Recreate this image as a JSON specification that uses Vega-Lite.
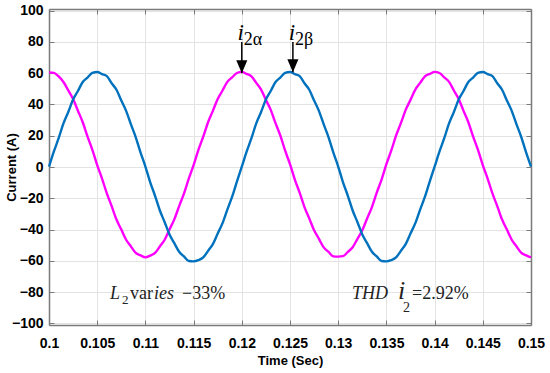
{
  "$schema": "https://vega.github.io/schema/vega-lite/v6.json",
  "width": 482,
  "height": 316,
  "autosize": "none",
  "padding": {"left": 49, "top": 9, "right": 19, "bottom": 48},
  "background": "white",
  "config": {
    "view": {"stroke": null},
    "axis": {
      "domainColor": "#7a7a7a", "domainWidth": 1.5,
      "tickColor": "#7a7a7a", "tickWidth": 1,
      "gridColor": "#e3e3e3", "gridWidth": 1,
      "labelFont": "Liberation Sans", "labelFontWeight": "bold", "labelFontSize": 14, "labelColor": "black",
      "titleFont": "Liberation Sans", "titleFontWeight": "bold", "titleFontSize": 13, "titleColor": "black"
    }
  },
  "resolve": {"axis": {"x": "independent", "y": "independent"}},
  "layer": [
    {
      "data": {"values": [
        {"t":0.1,"a":60.5,"b":0.2},{"t":0.1005,"a":60.2,"b":9.8},{"t":0.101,"a":57.9,"b":18.4},{"t":0.1015,"a":54.3,"b":27.9},{"t":0.102,"a":49.0,"b":35.2},
        {"t":0.1025,"a":43.5,"b":43.1},{"t":0.103,"a":36.0,"b":48.6},{"t":0.1035,"a":28.6,"b":54.3},{"t":0.104,"a":19.4,"b":57.2},{"t":0.1045,"a":11.0,"b":60.1},
        {"t":0.105,"a":1.2,"b":60.7},{"t":0.1055,"a":-7.4,"b":59.4},{"t":0.106,"a":-16.9,"b":58.1},{"t":0.1065,"a":-25.0,"b":53.5},{"t":0.107,"a":-33.6,"b":49.4},
        {"t":0.1075,"a":-40.0,"b":42.5},{"t":0.108,"a":-46.5,"b":35.9},{"t":0.1085,"a":-50.8,"b":27.2},{"t":0.109,"a":-54.9,"b":19.0},{"t":0.1095,"a":-56.5,"b":9.2},
        {"t":0.11,"a":-57.8,"b":0.3},{"t":0.1105,"a":-56.6,"b":-9.8},{"t":0.111,"a":-54.9,"b":-18.4},{"t":0.1115,"a":-50.8,"b":-27.8},{"t":0.112,"a":-46.5,"b":-35.3},
        {"t":0.1125,"a":-39.9,"b":-43.1},{"t":0.113,"a":-33.5,"b":-48.7},{"t":0.1135,"a":-25.0,"b":-54.2},{"t":0.114,"a":-17.0,"b":-57.2},{"t":0.1145,"a":-7.4,"b":-60.1},
        {"t":0.115,"a":1.2,"b":-60.3},{"t":0.1155,"a":11.0,"b":-59.5},{"t":0.116,"a":19.4,"b":-57.8},{"t":0.1165,"a":28.6,"b":-53.6},{"t":0.117,"a":35.9,"b":-49.3},
        {"t":0.1175,"a":43.5,"b":-42.5},{"t":0.118,"a":48.9,"b":-35.9},{"t":0.1185,"a":54.4,"b":-27.2},{"t":0.119,"a":57.3,"b":-19.0},{"t":0.1195,"a":60.1,"b":-9.2},
        {"t":0.12,"a":60.8,"b":0.2},{"t":0.1205,"a":59.5,"b":9.8},{"t":0.121,"a":57.9,"b":18.4},{"t":0.1215,"a":53.8,"b":27.9},{"t":0.122,"a":49.5,"b":35.2},
        {"t":0.1225,"a":42.9,"b":43.1},{"t":0.123,"a":36.5,"b":48.6},{"t":0.1235,"a":28.0,"b":54.3},{"t":0.124,"a":20.0,"b":57.2},{"t":0.1245,"a":10.4,"b":60.1},
        {"t":0.125,"a":1.8,"b":60.7},{"t":0.1255,"a":-8.0,"b":59.4},{"t":0.126,"a":-16.4,"b":58.1},{"t":0.1265,"a":-25.6,"b":53.5},{"t":0.127,"a":-32.9,"b":49.4},
        {"t":0.1275,"a":-40.5,"b":42.5},{"t":0.128,"a":-45.9,"b":35.9},{"t":0.1285,"a":-51.4,"b":27.2},{"t":0.129,"a":-54.3,"b":19.0},{"t":0.1295,"a":-57.1,"b":9.2},
        {"t":0.13,"a":-57.3,"b":0.3},{"t":0.1305,"a":-57.0,"b":-9.8},{"t":0.131,"a":-54.3,"b":-18.4},{"t":0.1315,"a":-51.3,"b":-27.8},{"t":0.132,"a":-45.9,"b":-35.3},
        {"t":0.1325,"a":-40.5,"b":-43.1},{"t":0.133,"a":-32.9,"b":-48.7},{"t":0.1335,"a":-25.6,"b":-54.2},{"t":0.134,"a":-16.4,"b":-57.2},{"t":0.1345,"a":-8.0,"b":-60.1},
        {"t":0.135,"a":1.8,"b":-60.3},{"t":0.1355,"a":10.4,"b":-59.5},{"t":0.136,"a":20.0,"b":-57.8},{"t":0.1365,"a":28.0,"b":-53.6},{"t":0.137,"a":36.5,"b":-49.3},
        {"t":0.1375,"a":42.9,"b":-42.5},{"t":0.138,"a":49.5,"b":-35.9},{"t":0.1385,"a":53.8,"b":-27.2},{"t":0.139,"a":57.9,"b":-19.0},{"t":0.1395,"a":59.5,"b":-9.2},
        {"t":0.14,"a":60.8,"b":0.2},{"t":0.1405,"a":60.1,"b":9.8},{"t":0.141,"a":57.3,"b":18.4},{"t":0.1415,"a":54.4,"b":27.9},{"t":0.142,"a":48.9,"b":35.2},
        {"t":0.1425,"a":43.5,"b":43.1},{"t":0.143,"a":35.9,"b":48.6},{"t":0.1435,"a":28.6,"b":54.3},{"t":0.144,"a":19.4,"b":57.2},{"t":0.1445,"a":11.0,"b":60.1},
        {"t":0.145,"a":1.2,"b":60.7},{"t":0.1455,"a":-7.4,"b":59.4},{"t":0.146,"a":-16.9,"b":58.1},{"t":0.1465,"a":-25.0,"b":53.5},{"t":0.147,"a":-33.6,"b":49.4},
        {"t":0.1475,"a":-40.0,"b":42.5},{"t":0.148,"a":-46.5,"b":35.9},{"t":0.1485,"a":-50.8,"b":27.2},{"t":0.149,"a":-54.9,"b":19.0},{"t":0.1495,"a":-56.5,"b":9.2},
        {"t":0.15,"a":-57.8,"b":0.3}
      ]},
      "transform": [{"fold": ["a", "b"], "as": ["s", "v"]}],
      "mark": {"type": "line", "strokeWidth": 2.4, "interpolate": "monotone"},
      "encoding": {
        "x": {"field": "t", "type": "quantitative",
          "scale": {"domain": [0.1, 0.15], "nice": false, "zero": false},
          "axis": {"orient": "bottom", "values": [0.1,0.105,0.11,0.115,0.12,0.125,0.13,0.135,0.14,0.145,0.15], "format": "~g", "grid": true, "tickSize": -5, "labelPadding": 16, "labelFlush": false, "title": "Time (Sec)", "titlePadding": 4}},
        "y": {"field": "v", "type": "quantitative",
          "scale": {"domain": [-101, 101], "nice": false, "zero": false},
          "axis": {"orient": "left", "values": [-100,-80,-60,-40,-20,0,20,40,60,80,100], "grid": true, "tickSize": -5, "labelPadding": 11, "title": "Current (A)", "titleX": -31}},
        "color": {"field": "s", "type": "nominal", "scale": {"domain": ["a", "b"], "range": ["#FF00FF", "#0072BD"]}, "legend": null}
      }
    },
    {
      "data": {"values": [{"t": 0.1, "v": -101}, {"t": 0.15, "v": 101}]},
      "mark": {"type": "point", "opacity": 0},
      "encoding": {
        "x": {"field": "t", "type": "quantitative", "scale": {"domain": [0.1, 0.15], "nice": false, "zero": false},
          "axis": {"orient": "top", "values": [0.1,0.105,0.11,0.115,0.12,0.125,0.13,0.135,0.14,0.145,0.15], "labels": false, "grid": false, "tickSize": -5, "title": null}},
        "y": {"field": "v", "type": "quantitative", "scale": {"domain": [-101, 101], "nice": false, "zero": false},
          "axis": {"orient": "right", "values": [-100,-80,-60,-40,-20,0,20,40,60,80,100], "labels": false, "grid": false, "tickSize": -5, "title": null}}
      }
    },
    {
      "data": {"values": [
        {"t": 0.12, "top": 79.9, "tip": 60, "ty": 81.2, "sy": 78, "main": "i", "sub": "2α"},
        {"t": 0.1253, "top": 79.9, "tip": 60.5, "ty": 81.2, "sy": 78, "main": "i", "sub": "2β"}
      ]},
      "layer": [
        {"mark": {"type": "rule", "color": "black", "strokeWidth": 1.5},
         "encoding": {
           "x": {"field": "t", "type": "quantitative", "scale": {"domain": [0.1, 0.15], "nice": false, "zero": false}, "axis": null},
           "y": {"field": "top", "type": "quantitative", "scale": {"domain": [-101, 101], "nice": false, "zero": false}, "axis": null},
           "y2": {"field": "tip"}}},
        {"mark": {"type": "point", "shape": "M-0.85,-2L0.85,-2L0,0Z", "size": 169, "filled": true, "color": "black", "opacity": 1, "strokeWidth": 0},
         "encoding": {
           "x": {"field": "t", "type": "quantitative", "scale": {"domain": [0.1, 0.15], "nice": false, "zero": false}, "axis": null},
           "y": {"field": "tip", "type": "quantitative", "scale": {"domain": [-101, 101], "nice": false, "zero": false}, "axis": null}}},
        {"mark": {"type": "text", "font": "Liberation Serif", "fontStyle": "italic", "fontSize": 23, "align": "center", "baseline": "alphabetic", "dx": -1, "color": "black"},
         "encoding": {
           "x": {"field": "t", "type": "quantitative", "scale": {"domain": [0.1, 0.15], "nice": false, "zero": false}, "axis": null},
           "y": {"field": "ty", "type": "quantitative", "scale": {"domain": [-101, 101], "nice": false, "zero": false}, "axis": null},
           "text": {"field": "main"}}},
        {"mark": {"type": "text", "font": "Liberation Serif", "fontSize": 18, "align": "left", "baseline": "alphabetic", "dx": 2, "color": "black"},
         "encoding": {
           "x": {"field": "t", "type": "quantitative", "scale": {"domain": [0.1, 0.15], "nice": false, "zero": false}, "axis": null},
           "y": {"field": "sy", "type": "quantitative", "scale": {"domain": [-101, 101], "nice": false, "zero": false}, "axis": null},
           "text": {"field": "sub"}}}
      ]
    },
    {
      "data": {"values": [
        {"t": 0.10633, "y": -84.5, "p1": "L", "p2": "2", "p3": "var", "p4": "ies", "p5": "−33%"}
      ]},
      "encoding": {
        "x": {"field": "t", "type": "quantitative", "scale": {"domain": [0.1, 0.15], "nice": false, "zero": false}, "axis": null},
        "y": {"field": "y", "type": "quantitative", "scale": {"domain": [-101, 101], "nice": false, "zero": false}, "axis": null}
      },
      "layer": [
        {"mark": {"type": "text", "font": "Liberation Serif", "fontStyle": "italic", "fontSize": 18, "align": "left", "baseline": "alphabetic", "dx": 0, "color": "#222"}, "encoding": {"text": {"field": "p1"}}},
        {"mark": {"type": "text", "font": "Liberation Serif", "fontSize": 13, "align": "left", "baseline": "alphabetic", "dx": 12, "dy": 5, "color": "#222"}, "encoding": {"text": {"field": "p2"}}},
        {"mark": {"type": "text", "font": "Liberation Serif", "fontSize": 18, "align": "left", "baseline": "alphabetic", "dx": 20, "color": "#222"}, "encoding": {"text": {"field": "p3"}}},
        {"mark": {"type": "text", "font": "Liberation Serif", "fontStyle": "italic", "fontSize": 18, "align": "left", "baseline": "alphabetic", "dx": 44, "color": "#222"}, "encoding": {"text": {"field": "p4"}}},
        {"mark": {"type": "text", "font": "Liberation Serif", "fontSize": 18, "align": "left", "baseline": "alphabetic", "dx": 72, "color": "#222"}, "encoding": {"text": {"field": "p5"}}}
      ]
    },
    {
      "data": {"values": [
        {"t": 0.13143, "y": -84.3, "p1": "THD", "p2": "i", "p3": "2", "p4": "=2.92%"}
      ]},
      "encoding": {
        "x": {"field": "t", "type": "quantitative", "scale": {"domain": [0.1, 0.15], "nice": false, "zero": false}, "axis": null},
        "y": {"field": "y", "type": "quantitative", "scale": {"domain": [-101, 101], "nice": false, "zero": false}, "axis": null}
      },
      "layer": [
        {"mark": {"type": "text", "font": "Liberation Serif", "fontStyle": "italic", "fontSize": 18, "align": "left", "baseline": "alphabetic", "dx": 0, "color": "#222"}, "encoding": {"text": {"field": "p1"}}},
        {"mark": {"type": "text", "font": "Liberation Serif", "fontStyle": "italic", "fontSize": 26, "align": "left", "baseline": "alphabetic", "dx": 46, "color": "#222"}, "encoding": {"text": {"field": "p2"}}},
        {"mark": {"type": "text", "font": "Liberation Serif", "fontSize": 14, "align": "left", "baseline": "alphabetic", "dx": 51, "dy": 13, "color": "#222"}, "encoding": {"text": {"field": "p3"}}},
        {"mark": {"type": "text", "font": "Liberation Serif", "fontSize": 18, "align": "left", "baseline": "alphabetic", "dx": 60, "color": "#222"}, "encoding": {"text": {"field": "p4"}}}
      ]
    }
  ]
}
